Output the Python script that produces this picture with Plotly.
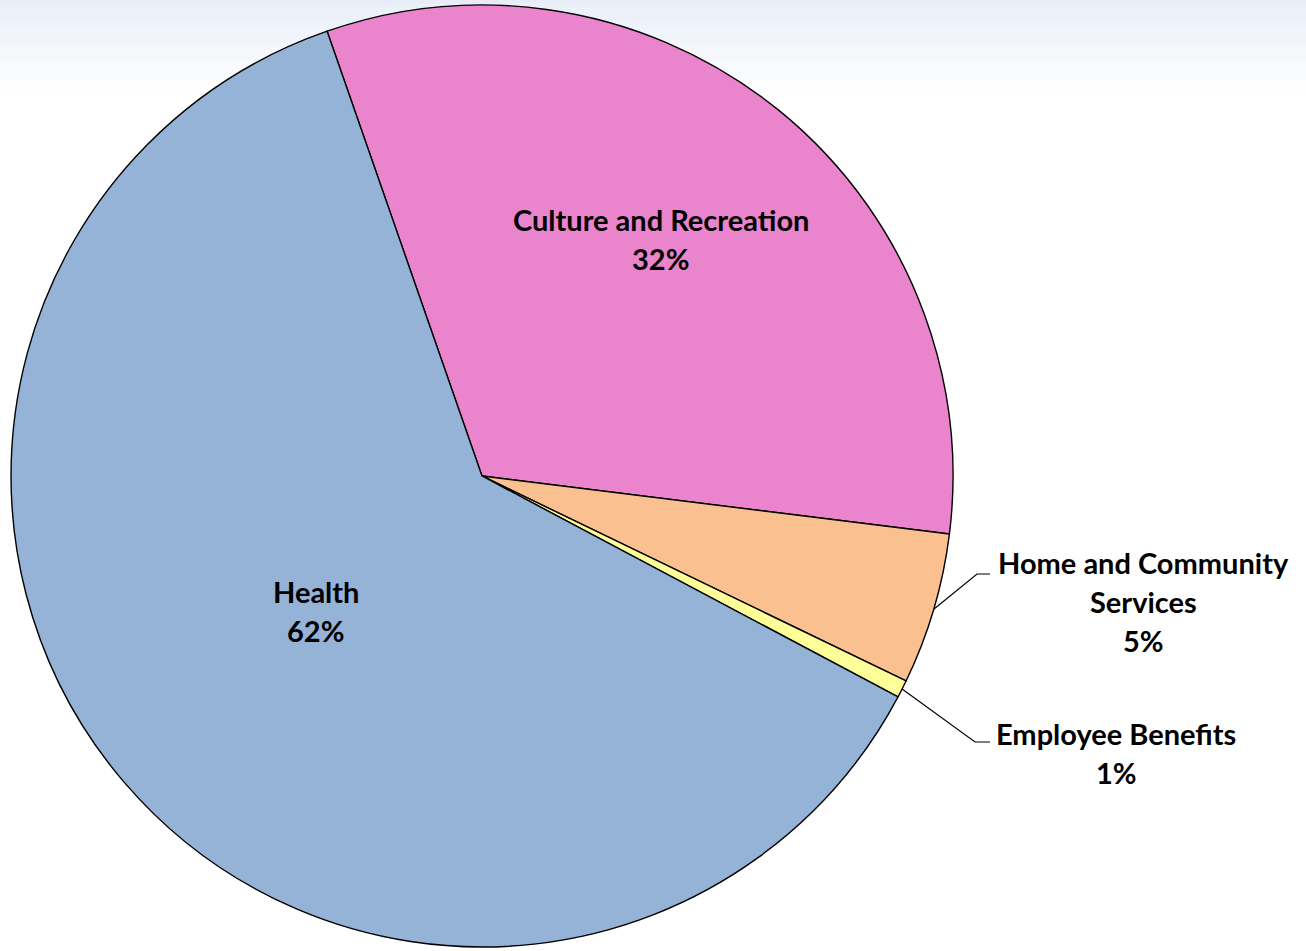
import math
import plotly.graph_objects as go

# ---- data ----
categories = ["Culture and Recreation", "Home and Community Services", "Employee Benefits", "Health"]
values = [32.3, 5.2, 0.6, 61.9]
pct_labels = ["32%", "5%", "1%", "62%"]
label_lines = [["Culture and Recreation", "32%"],
               ["Home and Community", "Services", "5%"],
               ["Employee Benefits", "1%"],
               ["Health", "62%"]]
colors = ["#EA84CC", "#FAC090", "#FFFF99", "#95B3D7"]

# ---- layout geometry (pixels) ----
W, H = 1306, 951
CX, CY, R = 482, 476, 471
ROTATION = -19.2
FONT = "Lato"
FS = 29
LINE_H = 39


def px(x):
    return x / W


def py(y):
    return 1 - y / H


def circ(angle_deg, rfrac):
    a = math.radians(angle_deg)
    return CX + R * rfrac * math.sin(a), CY - R * rfrac * math.cos(a)


# slice mid angles from data
total = sum(values)
mids = []
acc = ROTATION
for v in values:
    span = 360 * v / total
    mids.append(acc + span / 2)
    acc += span

fig = go.Figure()
fig.add_trace(go.Pie(
    labels=categories, values=values, sort=False, direction="clockwise",
    rotation=ROTATION, marker=dict(colors=colors, line=dict(color="black", width=1.4)),
    textinfo="none", hoverinfo="label+percent", showlegend=False,
    domain=dict(x=[px(CX - R), px(CX + R)], y=[py(CY + R), py(CY - R)]),
))

shapes = []
# background gradient at top
n = 45
top = (231, 237, 248)
for i in range(n):
    t = i / (n - 1)
    c = tuple(int(round(top[k] + (255 - top[k]) * t)) for k in range(3))
    y0 = i * 95 / n
    y1 = (i + 1) * 95 / n
    shapes.append(dict(type="rect", xref="paper", yref="paper", layer="below",
                       x0=0, x1=1, y0=py(y1), y1=py(y0),
                       fillcolor="rgb(%d,%d,%d)" % c, line=dict(width=0)))

annotations = []


def add_block(lines, cx, cy_center):
    nl = len(lines)
    for i, s in enumerate(lines):
        y = cy_center + (i - (nl - 1) / 2) * LINE_H
        annotations.append(dict(x=px(cx), y=py(y), xref="paper", yref="paper",
                                text=s, showarrow=False, xanchor="center", yanchor="middle",
                                font=dict(family=FONT, size=FS, color="black", weight="bold")))


# inside labels: Culture and Health
x, y = circ(mids[0] - 1.9, 0.63)
add_block(label_lines[0], x, y)
x, y = circ(mids[3] + 1.4, 0.456)
add_block(label_lines[3], x, y - 1)

# outside labels with leader lines
leaders = [(1, (977, 574), 990, 1143, 601), (2, (975, 742), 990, 1116, 753)]
for idx, elbow, endx, tx, ty in leaders:
    sx, sy = circ(mids[idx], 1.0)
    shapes.append(dict(type="path", xref="paper", yref="paper",
                       path="M %f %f L %f %f L %f %f" % (px(sx), py(sy), px(elbow[0]), py(elbow[1]), px(endx), py(elbow[1])),
                       line=dict(color="black", width=1.2)))
    add_block(label_lines[idx], tx, ty)

fig.update_layout(width=W, height=H, margin=dict(l=0, r=0, t=0, b=0),
                  paper_bgcolor="white", plot_bgcolor="white",
                  shapes=shapes, annotations=annotations)
fig.write_html("out.html", config={"displayModeBar": False},
               post_script="document.body.style.margin='0';")
